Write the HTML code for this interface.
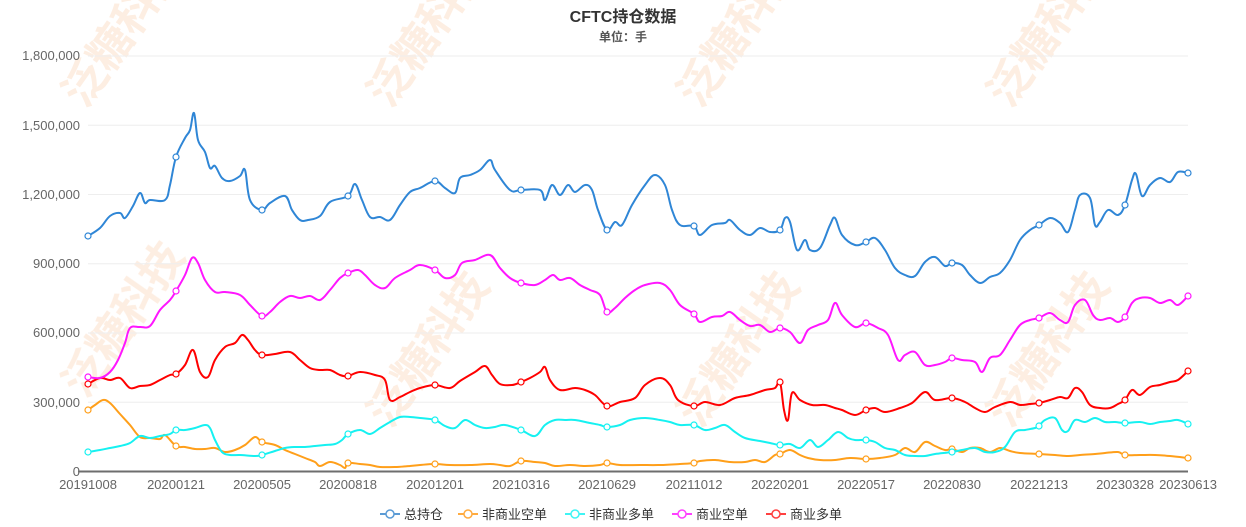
<!DOCTYPE html>
<html><head><meta charset="utf-8"><style>
body{margin:0;background:#fff;}
svg{display:block;font-family:"Liberation Sans","Noto Sans CJK SC",sans-serif;}
</style></head><body>
<svg id="s" width="1246" height="527" viewBox="0 0 1246 527" xmlns="http://www.w3.org/2000/svg">
<g fill="#fbd9bf" opacity="0.45" font-size="44" font-weight="bold">
<text transform="translate(85,110) rotate(-55)">泛糖科技</text>
<text transform="translate(390,110) rotate(-55)">泛糖科技</text>
<text transform="translate(700,110) rotate(-55)">泛糖科技</text>
<text transform="translate(1010,110) rotate(-55)">泛糖科技</text>
<text transform="translate(85,400) rotate(-55)">泛糖科技</text>
<text transform="translate(390,430) rotate(-55)">泛糖科技</text>
<text transform="translate(700,430) rotate(-55)">泛糖科技</text>
<text transform="translate(1010,430) rotate(-55)">泛糖科技</text>
</g>
<g stroke="#eee" stroke-width="1">
<line x1="88" x2="1188" y1="56" y2="56"/><line x1="88" x2="1188" y1="125.3" y2="125.3"/>
<line x1="88" x2="1188" y1="194.5" y2="194.5"/><line x1="88" x2="1188" y1="263.8" y2="263.8"/>
<line x1="88" x2="1188" y1="333" y2="333"/><line x1="88" x2="1188" y1="402.3" y2="402.3"/>
</g>
<g fill="#666" font-size="13" text-anchor="end">
<text x="80" y="60">1,800,000</text><text x="80" y="130">1,500,000</text>
<text x="80" y="199">1,200,000</text><text x="80" y="268">900,000</text>
<text x="80" y="337">600,000</text><text x="80" y="407">300,000</text>
<text x="80" y="476">0</text>
</g>
<line x1="78" x2="1188" y1="471.5" y2="471.5" stroke="#6e6e6e" stroke-width="2"/>
<g fill="#666" font-size="13" text-anchor="middle">
<text x="88" y="489">20191008</text><text x="176" y="489">20200121</text><text x="262" y="489">20200505</text>
<text x="348" y="489">20200818</text><text x="435" y="489">20201201</text><text x="521" y="489">20210316</text>
<text x="607" y="489">20210629</text><text x="694" y="489">20211012</text><text x="780" y="489">20220201</text>
<text x="866" y="489">20220517</text><text x="952" y="489">20220830</text><text x="1039" y="489">20221213</text>
<text x="1125" y="489">20230328</text><text x="1188" y="489">20230613</text>
</g>
<text x="623" y="22" text-anchor="middle" font-size="16" font-weight="bold" fill="#333">CFTC持仓数据</text>
<text x="623" y="41" text-anchor="middle" font-size="12" font-weight="bold" fill="#555">单位：手</text>
<g id="series"></g>
<g font-size="13" fill="#333" id="legend"></g>
</svg>
<script>
const S=[
["#ff9f1a","88,410 95,405 103,400 110,403 120,414 130,425 140,437 150,438 160,439 165,435 176,446 185,447 195,449 205,449 215,448 225,452 235,450 245,445 255,437 262,442 275,445 285,450 295,454 305,458 315,462 320,466 330,462 340,465 345,468 348,463 360,464 370,465 380,467 395,467 410,466 420,465 435,464 450,465 470,465 490,464 500,465 510,466 521,461 535,462 545,463 555,466 570,465 585,466 600,465 607,463 620,465 640,465 660,465 680,464 694,463 700,461 715,460 730,462 745,462 755,460 765,462 775,455 780,454 790,450 800,455 808,458 820,460 835,460 850,458 866,459 880,458 895,455 905,448 915,452 925,442 935,446 945,450 952,449 962,452 970,448 980,448 990,452 1000,448 1010,451 1020,453 1039,454 1055,455 1068,456 1080,455 1095,454 1105,453 1118,452 1125,455 1140,455 1155,455 1170,456 1188,458"],
["#16f1f1","88,452 100,450 110,448 120,446 130,443 140,436 150,438 160,436 170,434 176,430 185,430 195,428 205,425 210,428 215,440 222,452 230,455 240,455 255,456 262,455 275,451 285,448 295,447 305,447 315,446 325,445 335,444 342,440 348,434 360,430 370,434 380,428 390,422 400,417 410,417 420,418 435,420 445,426 455,428 465,420 475,425 485,428 495,427 505,425 521,430 535,436 545,425 555,420 565,420 575,420 590,423 600,425 607,427 620,425 630,420 645,418 660,420 670,422 680,425 694,425 705,430 715,428 725,425 735,432 745,438 760,441 770,443 780,445 790,444 800,448 810,440 818,447 828,440 838,432 848,438 855,440 866,440 875,442 885,448 895,450 905,455 915,456 925,456 935,454 952,452 962,450 975,448 985,452 995,452 1005,447 1015,432 1025,430 1035,428 1039,426 1045,420 1055,418 1062,430 1068,431 1075,420 1085,422 1095,418 1105,422 1115,422 1125,423 1140,422 1150,424 1160,422 1170,421 1178,420 1188,424"],
["#f00","88,384 100,378 110,380 120,378 130,388 140,386 150,385 160,380 170,375 176,374 185,365 193,350 200,372 208,377 215,360 225,347 235,343 242,335 248,340 255,350 262,355 275,354 290,352 300,360 310,368 320,370 330,370 340,375 348,376 360,372 375,375 385,380 390,400 400,397 410,392 420,388 435,385 450,388 460,381 475,372 485,366 492,375 500,384 512,385 521,382 530,378 540,372 545,367 550,380 560,390 575,388 585,390 595,395 607,406 620,402 635,398 645,385 660,378 670,385 678,400 694,406 705,402 720,405 735,398 750,395 765,390 775,388 780,382 784,410 788,420 792,393 800,400 812,405 825,405 835,408 842,410 855,415 866,410 875,408 885,412 900,408 912,403 925,392 935,400 952,398 965,402 975,408 985,412 995,407 1010,402 1020,405 1030,404 1039,403 1050,400 1060,397 1068,398 1075,388 1082,392 1090,405 1100,408 1110,408 1118,404 1125,400 1132,390 1140,395 1150,387 1160,385 1170,382 1178,380 1188,371"],
["#ff16ff","88,377 100,378 110,372 118,360 125,343 130,328 140,327 150,326 160,310 170,300 176,291 185,275 192,258 198,263 205,280 215,292 225,292 240,295 250,305 262,316 270,312 280,302 290,296 300,298 310,296 320,300 330,290 340,278 348,273 358,270 365,275 375,285 385,288 395,278 410,270 420,265 435,270 445,278 455,275 462,263 475,260 490,255 500,268 510,278 521,283 535,285 545,280 553,275 560,280 570,278 580,285 590,290 600,295 607,312 615,308 625,298 635,290 645,285 660,283 670,290 680,305 694,314 700,322 712,317 722,316 730,312 740,320 750,326 760,325 770,332 780,328 790,332 800,343 808,330 818,325 828,320 835,303 842,315 855,327 866,323 878,328 888,335 898,360 905,355 915,352 925,365 935,365 945,362 952,358 962,360 975,362 982,372 990,358 1000,355 1010,340 1020,325 1030,320 1039,318 1050,313 1060,320 1068,322 1075,305 1085,300 1093,315 1100,320 1110,318 1118,322 1125,317 1132,303 1140,298 1150,298 1160,303 1170,300 1178,305 1188,296"],
["#2f86d6","88,236 100,228 110,216 120,213 125,218 133,206 140,193 145,203 150,200 165,200 170,185 176,157 185,138 190,130 194,113 198,140 205,152 210,168 215,166 222,178 230,181 240,176 245,170 250,200 262,210 270,203 285,196 292,210 300,220 308,220 320,216 330,202 348,196 355,184 362,200 370,217 380,217 390,220 400,205 410,192 420,188 435,181 445,188 455,193 460,178 470,175 480,170 490,160 495,170 510,190 521,190 540,190 545,200 552,185 560,195 568,185 575,192 585,185 592,190 598,210 607,230 615,222 622,225 632,205 645,185 655,175 665,185 672,210 680,225 694,226 700,235 712,225 725,223 730,220 740,230 750,235 760,228 770,232 780,230 785,218 790,222 797,250 805,240 810,250 820,248 830,225 835,218 842,235 855,245 866,242 875,238 885,250 895,268 905,275 915,276 925,262 935,257 945,266 952,263 962,265 970,275 980,283 990,277 1000,273 1010,260 1020,240 1030,230 1039,225 1050,218 1060,223 1068,232 1075,210 1080,195 1090,198 1095,225 1100,222 1108,210 1118,215 1125,205 1132,180 1136,174 1142,196 1150,185 1160,178 1170,182 1178,172 1188,173"]
];
const marks=[88,176,262,348,435,521,607,694,780,866,952,1039,1125,1188];
const g=document.getElementById('series');let h='';
for(const [c,str] of S){
 const p=str.split(' ').map(s=>s.split(',').map(Number));
 let d='M'+p[0][0]+','+p[0][1];
 for(let i=0;i<p.length-1;i++){
  const p0=p[Math.max(0,i-1)],p1=p[i],p2=p[i+1],p3=p[Math.min(p.length-1,i+2)];
  const t=0.18;
  d+=` C${p1[0]+(p2[0]-p0[0])*t},${p1[1]+(p2[1]-p0[1])*t} ${p2[0]-(p3[0]-p1[0])*t},${p2[1]-(p3[1]-p1[1])*t} ${p2[0]},${p2[1]}`;
 }
 h+=`<path d="${d}" fill="none" stroke="${c}" stroke-width="2"/>`;
 for(const mx of marks){
  let best=p[0];for(const q of p){if(Math.abs(q[0]-mx)<Math.abs(best[0]-mx))best=q;}
  h+=`<circle cx="${best[0]}" cy="${best[1]}" r="3" fill="#fff" stroke="${c}" stroke-width="1.2"/>`;
 }
}
g.innerHTML=h;
const L=[["#5b9bd5","总持仓",380],["#ffab40","非商业空单",458],["#40f4f4","非商业多单",565],["#ff40ff","商业空单",672],["#ff4040","商业多单",766]];
let lh='';
for(const [c,t,x] of L){
 lh+=`<line x1="${x}" x2="${x+20}" y1="514" y2="514" stroke="${c}" stroke-width="2"/><circle cx="${x+10}" cy="514" r="4" fill="#fff" stroke="${c}" stroke-width="1.5"/><text x="${x+24}" y="519">${t}</text>`;
}
document.getElementById('legend').innerHTML=lh;
</script>
</body></html>
